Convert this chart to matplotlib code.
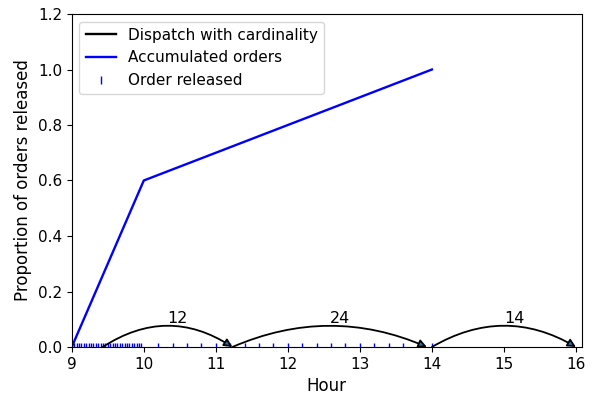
import numpy as np
import matplotlib
matplotlib.use("Agg")
import matplotlib.pyplot as plt

plt.rcParams['font.size'] = 11

# order release times (hours): 30 orders between 9 and 10, then 20 between 10 and 14
release_early = [9.0, 9.033, 9.067, 9.1, 9.133, 9.167, 9.2, 9.233, 9.267, 9.3,
                 9.333, 9.367, 9.4, 9.433, 9.467, 9.5, 9.533, 9.567, 9.6, 9.633,
                 9.667, 9.7, 9.733, 9.767, 9.8, 9.833, 9.867, 9.9, 9.933, 9.967]
release_late = [10.2, 10.4, 10.6, 10.8, 11.0, 11.2, 11.4, 11.6, 11.8, 12.0,
                12.2, 12.4, 12.6, 12.8, 13.0, 13.2, 13.4, 13.6, 13.8, 14.0]
release_times = release_early + release_late

# accumulated proportion of orders
acc_hours = [9, 10, 14]
acc_prop = [0.0, 0.6, 1.0]

# dispatches: start, end, cardinality
disp_start = [9.43, 11.23, 14.0]
disp_end = [11.23, 13.93, 16.0]
disp_card = [12, 24, 14]

fig, ax = plt.subplots(figsize=(5.93, 4.0), dpi=100)
fig.subplots_adjust(left=0.121, right=0.981, bottom=0.1325, top=0.965)

ax.set_xlim(9, 16.08)
ax.set_ylim(0, 1.2)

# arcs with the same height in pixels
arc_h = 21.0
px_per_h = (0.981 - 0.121) * 593 / (16.08 - 9)
for s, e, c in zip(disp_start, disp_end, disp_card):
    d = (e - s) * px_per_h
    rad = -2 * arc_h / d
    ax.annotate("", xy=(e, 0), xytext=(s, 0),
                arrowprops=dict(arrowstyle="-|>", edgecolor="black", facecolor="C0",
                                connectionstyle="arc3,rad=%.3f" % rad,
                                shrinkA=0, shrinkB=0, lw=1.3, mutation_scale=12))
    ax.text((s + e) / 2, 0.085, str(c), fontsize=11.5)

ax.plot([], [], color="black", lw=1.7, label="Dispatch with cardinality")
ax.plot(acc_hours, acc_prop, color="blue", lw=1.7, label="Accumulated orders")
ax.plot(release_times, np.zeros(len(release_times)), "|", color="blue",
        mew=1.0, label="Order released")

ax.set_xlabel("Hour", fontsize=12)
ax.set_ylabel("Proportion of orders released", fontsize=12)
ax.legend(loc="upper left")

fig.savefig("out.png")
